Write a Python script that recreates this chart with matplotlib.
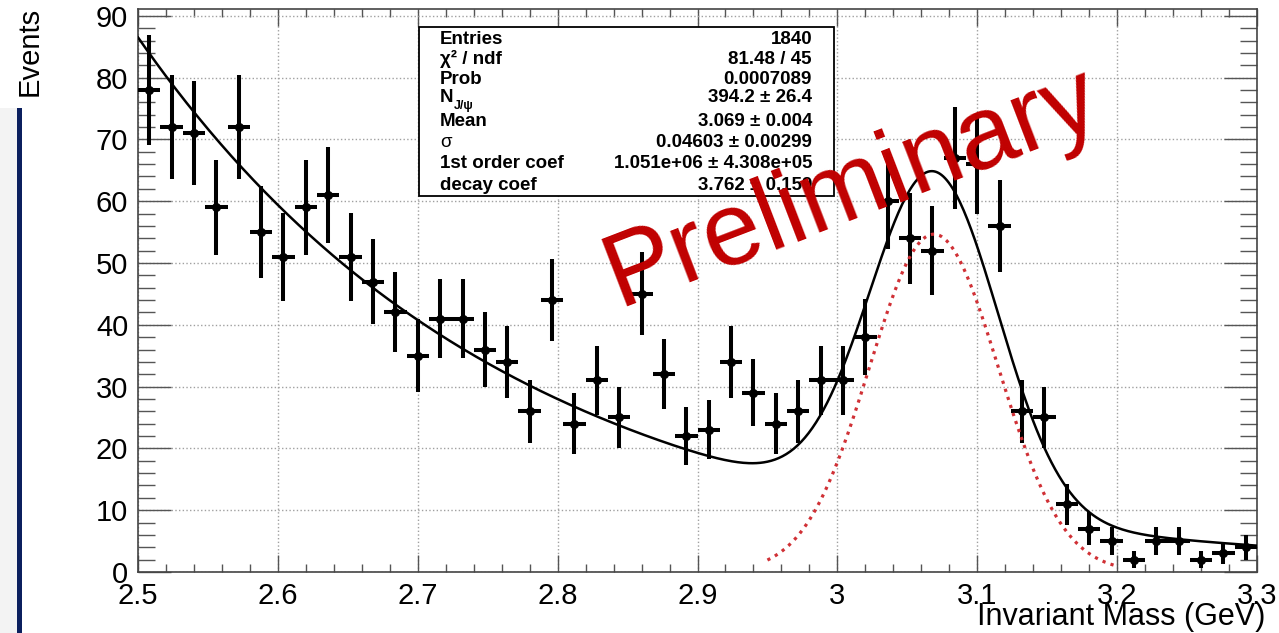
import numpy as np
import matplotlib
matplotlib.use('Agg')
import matplotlib.pyplot as plt
import matplotlib.patches as mpatches
from matplotlib.ticker import MultipleLocator, FuncFormatter

plt.rcParams['font.family'] = ['Liberation Sans', 'DejaVu Sans']

# histogram: 50 bins between 2.5 and 3.3 GeV
x_lo, x_hi, n_bins = 2.5, 3.3, 50
counts = [78, 72, 71, 59, 72, 55, 51, 59, 61, 51,
          47, 42, 35, 41, 41, 36, 34, 26, 44, 24,
          31, 25, 45, 32, 22, 23, 34, 29, 24, 26,
          31, 31, 38, 60, 54, 52, 67, 66, 56, 26,
          25, 11, 7, 5, 2, 5, 5, 2, 3, 4]

# fit results (stats box)
n_jpsi = 394.2
mean = 3.069
sigma = 0.04603
bkg_coef = 1.051e+06
decay_coef = 3.762

stat_labels = ['Entries', 'χ² / ndf', 'Prob', 'N', 'Mean', 'σ', '1st order coef', 'decay coef']
stat_values = ['1840', '81.48 / 45', '0.0007089', '394.2 ± 26.4', '3.069 ± 0.004',
               '0.04603 ± 0.00299', '1.051e+06 ± 4.308e+05', '3.762 ± 0.159']

edges = np.linspace(x_lo, x_hi, n_bins + 1)
centers = 0.5 * (edges[1:] + edges[:-1])
width = edges[1] - edges[0]
counts = np.array(counts, dtype=float)
errs = np.sqrt(counts)


def gauss(x):
    return n_jpsi * width / (sigma * np.sqrt(2 * np.pi)) * np.exp(-0.5 * ((x - mean) / sigma) ** 2)


def bkg(x):
    return bkg_coef * np.exp(-decay_coef * x)


W, H = 1279, 633
fig = plt.figure(figsize=(W / 100, H / 100), dpi=100)
ax = fig.add_axes([138 / W, 1 - 572 / H, (1257 - 138) / W, (572 - 9) / H])

# grid
ax.grid(True, which='major', color='#a0a0a0', linestyle=':', linewidth=1.0)
ax.set_axisbelow(True)

# data points
ax.errorbar(centers, counts, xerr=width / 2, yerr=errs, fmt='o', color='black',
            ms=5.5, elinewidth=2.9, capsize=0, zorder=4)

# fit curves
xf = np.linspace(x_lo, x_hi, 600)
ax.plot(xf, bkg(xf) + gauss(xf), color='black', lw=1.8, zorder=5)
xg = np.linspace(2.95, 3.2, 300)
ax.plot(xg, gauss(xg), color='#d03035', lw=2.3, linestyle=':', zorder=5)

ax.set_xlim(x_lo, x_hi)
ax.set_ylim(0, 91.1)

ax.xaxis.set_major_locator(MultipleLocator(0.1))
ax.xaxis.set_minor_locator(MultipleLocator(0.02))
ax.yaxis.set_major_locator(MultipleLocator(10))
ax.yaxis.set_minor_locator(MultipleLocator(2))
ax.xaxis.set_major_formatter(FuncFormatter(lambda v, p: '%g' % round(v, 2)))

ax.tick_params(axis='both', which='both', direction='in', top=True, right=True,
               labelsize=21, width=1.0, color='#555555')
ax.tick_params(axis='x', which='major', length=12, pad=7)
ax.tick_params(axis='x', which='minor', length=6)
ax.tick_params(axis='y', which='major', length=24, pad=7)
ax.tick_params(axis='y', which='minor', length=12)
for s in ax.spines.values():
    s.set_color('#444444')
    s.set_linewidth(1.2)

# axis titles ROOT style
fig.text(1265 / W, 1 - 625 / H, 'Invariant Mass (GeV)', ha='right', va='baseline', fontsize=22)
fig.text(30 / W, 1 - 7 / H, 'Events', ha='center', va='top', rotation=90, fontsize=21)

# stats box
def px(xp, yp):
    return (xp - 138) / (1257 - 138), (572 - yp) / (572 - 9)

x0, y0 = px(419, 196)
x1, y1 = px(834, 27)
box = mpatches.Rectangle((x0, y0), x1 - x0, y1 - y0, transform=ax.transAxes,
                         facecolor='white', edgecolor='black', lw=1.3, zorder=7)
ax.add_patch(box)
rows_y = [39, 59, 80, 98, 122, 142, 164, 185]
for lab, val, yp in zip(stat_labels, stat_values, rows_y):
    lx, ly = px(440, yp)
    rx, _ = px(812, yp)
    ax.text(lx, ly, lab, transform=ax.transAxes, ha='left', va='center',
            fontsize=13.5, fontweight='normal' if lab == 'σ' else 'bold', zorder=8)
    if lab == 'N':
        sx, sy = px(454, yp + 8)
        ax.text(sx, sy, 'J/ψ', transform=ax.transAxes, ha='left', va='center',
                fontsize=9, fontweight='bold', zorder=8)
    ax.text(rx, ly, val, transform=ax.transAxes, ha='right', va='center',
            fontsize=13.5, fontweight='bold', zorder=8)

# watermark
fig.text(852 / W, 1 - 188 / H, 'Preliminary', color='#c00000', fontsize=75,
         rotation=21, rotation_mode='anchor', ha='center', va='center', zorder=20)

# left strip from the screenshot
fig.patches.append(mpatches.Rectangle((0, 0), 17 / W, 1 - 108 / H, transform=fig.transFigure,
                                      facecolor='#f3f3f3', edgecolor='none'))
fig.patches.append(mpatches.Rectangle((17 / W, 0), 5 / W, 1 - 108 / H, transform=fig.transFigure,
                                      facecolor='#0b1f5e', edgecolor='none'))

fig.savefig('out.png', dpi=100)
